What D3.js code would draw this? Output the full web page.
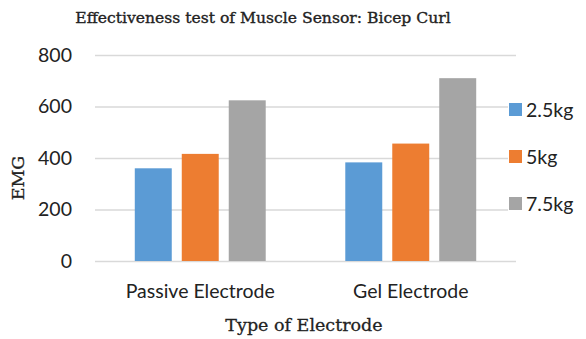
<!DOCTYPE html>
<html>
<head>
<meta charset="utf-8">
<script src="https://cdn.jsdelivr.net/npm/d3@7"></script>
<style>
  html, body { margin: 0; padding: 0; background: #fff; overflow: hidden; }
  svg { display: block; }
</style>
</head>
<body>
<div id="chart"></div>
<script>
// data
const categories = ['Passive Electrode', 'Gel Electrode'];
const seriesNames = ['2.5kg', '5kg', '7.5kg'];
const seriesValues = {
	'2.5kg': [360, 383],
	'5kg': [416, 456],
	'7.5kg': [624, 710]
};
const yTicks = [0, 200, 400, 600, 800];
const colors = ['#5B9BD5', '#ED7D31', '#A5A5A5'];

const width = 586, height = 339;
const margin = {top: 55, right: 70, bottom: 78, left: 95};
const innerWidth = width - margin.left - margin.right,
	innerHeight = height - margin.top - margin.bottom;

const sansFont = 'Lato, "Open Sans", sans-serif',
	serifFont = '"DejaVu Serif", serif';

const svg = d3.select('#chart')
	.append('svg')
	.attr('width', width)
	.attr('height', height);

// ----------------------------------
// SCALES
// ----------------------------------
const yScale = d3.scaleLinear()
	.domain([0, 800])
	.range([innerHeight, 0]);

const x0 = d3.scaleBand()
	.domain(categories)
	.range([0, innerWidth])
	.paddingInner(0.378)
	.paddingOuter(0.189);

const x1 = d3.scaleBand()
	.domain(seriesNames)
	.range([0, x0.bandwidth()])
	.paddingInner(0.213);

const chartInner = svg.append('g')
	.attr('transform', `translate(${margin.left}, ${margin.top})`);

// gridlines + y labels
const yAxis = chartInner.append('g')
	.call(d3.axisLeft(yScale).tickValues(yTicks).tickSize(0).tickPadding(23))
	.attr('font-family', sansFont)
	.attr('font-size', 19.5);

yAxis.select('.domain').remove();
yAxis.selectAll('.tick line')
	.attr('x2', innerWidth)
	.style('stroke', '#D9D9D9')
	.style('stroke-width', 1.3);
yAxis.selectAll('.tick text')
	.attr('fill', '#222');

// bars
const rows = categories.map((c, i) => ({
	category: c,
	values: seriesNames.map(s => ({series: s, value: seriesValues[s][i]}))
}));

chartInner.selectAll('g.group')
	.data(rows)
	.join('g')
	.attr('class', 'group')
	.attr('transform', d => `translate(${x0(d.category)}, 0)`)
	.selectAll('rect')
	.data(d => d.values)
	.join('rect')
	.attr('x', d => x1(d.series))
	.attr('width', x1.bandwidth())
	.attr('y', d => yScale(d.value))
	.attr('height', d => innerHeight - yScale(d.value))
	.attr('fill', (d, i) => colors[i]);

// x labels
const xAxis = chartInner.append('g')
	.attr('transform', `translate(0, ${innerHeight})`)
	.call(d3.axisBottom(x0).tickSize(0).tickPadding(23))
	.attr('font-family', sansFont)
	.attr('font-size', 19.5);
xAxis.select('.domain').remove();
xAxis.selectAll('.tick text')
	.attr('fill', '#222');

// legend
const legend = svg.append('g')
	.attr('transform', 'translate(508, 109.5)')
	.attr('font-family', sansFont)
	.attr('font-size', 19.5);

legend.append('rect')
	.attr('x', 0)
	.attr('y', -12)
	.attr('width', 78)
	.attr('height', 118)
	.attr('fill', '#fff');

seriesNames.forEach((s, i) => {
	const item = legend.append('g')
		.attr('transform', `translate(0, ${i * 47})`);
	item.append('rect')
		.attr('x', 1)
		.attr('y', -6.5)
		.attr('width', 13)
		.attr('height', 13)
		.attr('fill', colors[i]);
	item.append('text')
		.attr('x', 18)
		.attr('dy', '0.36em')
		.attr('fill', '#222')
		.text(s);
});

// titles
const titles = svg.append('g')
	.attr('font-family', serifFont)
	.attr('fill', '#222')
	.attr('stroke', '#222')
	.attr('text-anchor', 'middle');

titles.append('text')
	.attr('x', 263)
	.attr('y', 23)
	.attr('font-size', 15.6)
	.attr('stroke-width', 0.35)
	.text('Effectiveness test of Muscle Sensor: Bicep Curl');

titles.append('text')
	.attr('x', 304)
	.attr('y', 331)
	.attr('font-size', 17.5)
	.attr('stroke-width', 0.3)
	.text('Type of Electrode');

titles.append('text')
	.attr('transform', `rotate(-90, 24, 178)`)
	.attr('x', 24)
	.attr('y', 178)
	.attr('font-size', 17.5)
	.attr('stroke-width', 0.3)
	.text('EMG');
</script>
</body>
</html>
